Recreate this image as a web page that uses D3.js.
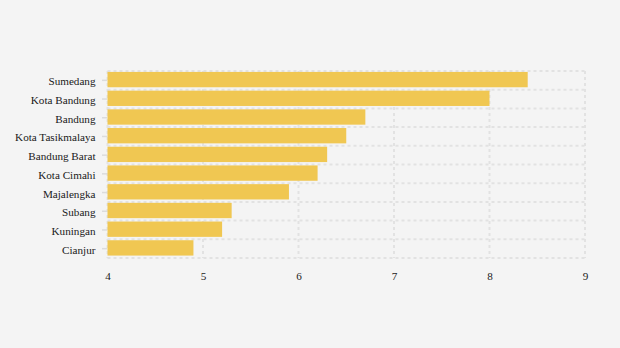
<!DOCTYPE html>
<html><head><meta charset="utf-8">
<script src="https://cdn.jsdelivr.net/npm/d3@7"></script>
<style>html,body{margin:0;padding:0;background:#f4f4f4;}</style>
</head><body>
<svg id="c" width="620" height="348"></svg>
<script>
const categories = ["Sumedang","Kota Bandung","Bandung","Kota Tasikmalaya","Bandung Barat","Kota Cimahi","Majalengka","Subang","Kuningan","Cianjur"];
const values = [8.4, 8.0, 6.7, 6.5, 6.3, 6.2, 5.9, 5.3, 5.2, 4.9];
const xTicks = [4, 5, 6, 7, 8, 9];

(function () {
const svg = d3.select("#c");
svg.append("rect").attr("width",620).attr("height",348).attr("fill","#f4f4f4");
const mLeft = 107.5, mRight = 585, mTop = 71, mBottom = 258;
const x = d3.scaleLinear().domain([4, 9]).range([mLeft, mRight]);
const y = d3.scaleBand().domain(categories).range([mTop, mBottom]).padding(0);
const step = y.step();
const font = "'Liberation Serif','Times New Roman',serif";

// grid
const g = svg.append("g");
xTicks.forEach(t => {
  g.append("line").attr("x1", x(t)).attr("x2", x(t)).attr("y1", mTop).attr("y2", mBottom)
   .attr("stroke", "#e2e2e2").attr("stroke-width", 2).attr("stroke-dasharray", "3,3");
});
const edges = categories.map(c => y(c)).concat([mBottom]);
edges.forEach(v => {
  g.append("line").attr("x1", mLeft).attr("x2", mRight).attr("y1", v).attr("y2", v)
   .attr("stroke", "#e2e2e2").attr("stroke-width", 2).attr("stroke-dasharray", "3,3");
});

// bars
svg.append("g").selectAll("rect").data(categories).join("rect")
  .attr("x", x(4))
  .attr("y", d => y(d) + step * 0.05)
  .attr("width", (d, i) => x(values[i]) - x(4))
  .attr("height", step * 0.82)
  .attr("fill", "#f0c752");

// y axis
const yAxis = svg.append("g").attr("transform", `translate(${mLeft},0)`)
  .call(d3.axisLeft(y).tickSize(5).tickPadding(7));
yAxis.select(".domain").remove();
yAxis.selectAll(".tick line").attr("stroke", "#dcdcdc").attr("stroke-width", 1.5)
  .attr("transform", "translate(-0.5,0)");
yAxis.selectAll(".tick text").attr("font-family", font).attr("font-size", 11.15).attr("fill", "#1a1a1a")
  .attr("dy", "0.45em");

// x axis
const xAxis = svg.append("g").attr("transform", `translate(0,${mBottom})`)
  .call(d3.axisBottom(x).tickValues(xTicks).tickFormat(d3.format("d")).tickSize(0).tickPadding(14));
xAxis.select(".domain").remove();
xAxis.selectAll(".tick text").attr("font-family", font).attr("font-size", 11.15).attr("fill", "#1a1a1a");
})();
</script>
</body></html>
